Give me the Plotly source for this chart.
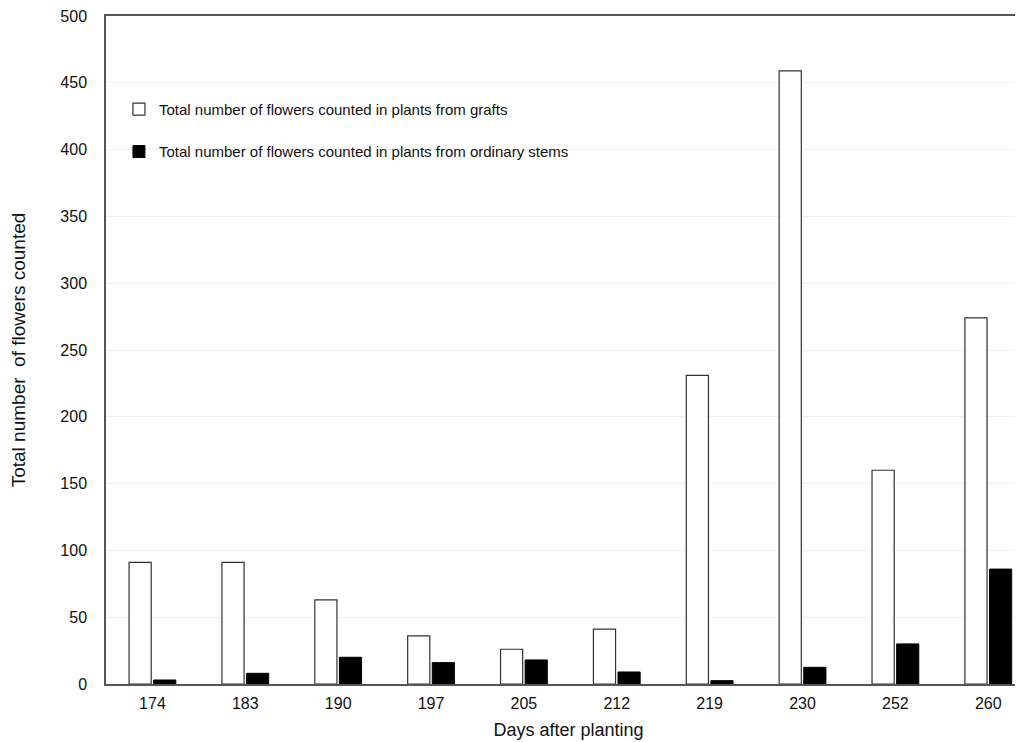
import plotly.graph_objects as go

days = ["174", "183", "190", "197", "205", "212", "219", "230", "252", "260"]
grafts = [91, 91, 63, 36, 26, 41, 231, 459, 160, 274]
ordinary = [3, 8, 20, 16, 18, 9, 2.5, 12.5, 30, 86]

fig = go.Figure()
fig.add_trace(go.Bar(
    x=days, y=grafts,
    name="Total number of flowers counted in plants from grafts",
    legendgroup="g1",
    marker=dict(color="white", line=dict(color="#333333", width=1.2)),
))
fig.add_trace(go.Bar(
    x=days, y=ordinary,
    name="Total number of flowers counted in plants from ordinary stems",
    legendgroup="g2",
    marker=dict(color="black", line=dict(color="#000000", width=1)),
))

fig.update_layout(
    width=1023, height=742,
    margin=dict(l=98, r=0, t=8, b=66),
    paper_bgcolor="white", plot_bgcolor="white",
    font=dict(family="Liberation Sans, Arial, sans-serif", color="#111111", size=15),
    barmode="group", bargap=0.47, bargroupgap=0.1,
    showlegend=True,
    legend=dict(
        x=0.014, y=0.885, xanchor="left", yanchor="top",
        font=dict(size=15, color="#111111"),
        bgcolor="rgba(0,0,0,0)", traceorder="grouped", tracegroupgap=20, itemwidth=30,
    ),
    xaxis=dict(
        type="category", range=[-0.5, 9.46],
        showline=True, linecolor="#555555", linewidth=1.5, mirror=True,
        ticks="", ticklabelstandoff=4, tickfont=dict(size=16), showgrid=False,
        title=dict(text="Days after planting", font=dict(size=18), standoff=12),
    ),
    yaxis=dict(
        range=[0, 500], dtick=50,
        showline=True, linecolor="#555555", linewidth=1.5,
        ticks="", ticklabelstandoff=14, tickfont=dict(size=16),
        ticklabeloverflow="allow",
        showgrid=True, gridcolor="#f1f1f1", gridwidth=1,
        zeroline=False,
        title=dict(text="Total number  of flowers counted", font=dict(size=19), standoff=30),
    ),
)

fig.write_html("out.html")
